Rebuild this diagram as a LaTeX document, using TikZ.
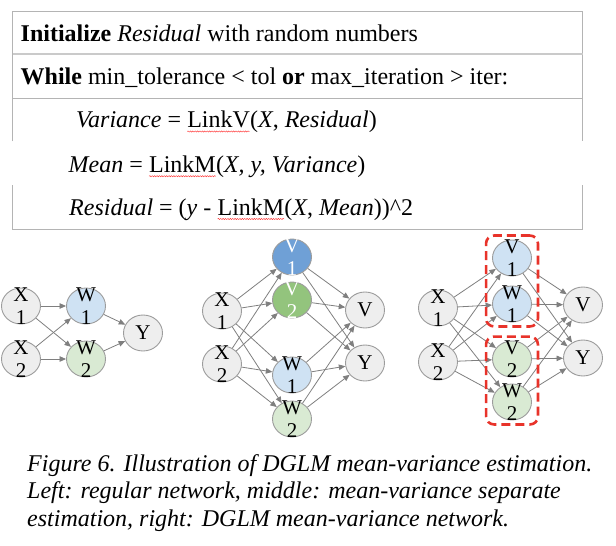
\documentclass[tikz,border=0pt]{standalone}
\usepackage{fontspec}
\setmainfont{Liberation Serif}
\usetikzlibrary{arrows.meta,shapes.geometric,fit,decorations.pathmorphing}
\definecolor{nodegray}{HTML}{EEEEEE}
\definecolor{edgegray}{HTML}{7F7F7F}
\definecolor{rimgray}{HTML}{9C9C9C}
\definecolor{lightblue}{HTML}{CFE2F3}
\definecolor{lightgreen}{HTML}{D9EAD3}
\definecolor{midblue}{HTML}{6FA0D6}
\definecolor{midgreen}{HTML}{93C47D}
\definecolor{boxred}{HTML}{E8332A}
\definecolor{rulegray}{HTML}{B4B4B4}
\newcommand\spellwave[1]{\tikz[baseline=(sw.base)]{\node[inner sep=0pt,outer sep=0pt] (sw) {#1};
	\draw[red!80, line width=0.45bp, decorate, decoration={snake, amplitude=0.6bp, segment length=2.4bp}]
	([yshift=-3.5bp]sw.base west) -- ([yshift=-3.5bp]sw.base east);}}
\tikzset{
	unit/.style={ellipse, draw=rimgray, line width=0.9bp, fill=nodegray,
		minimum width=39bp, minimum height=36bp, inner sep=0pt},
	unittext/.style={align=center, inner sep=0pt,
		font=\fontsize{21bp}{23bp}\selectfont},
	tag/.style={label={[unittext]center:#1}},
	wtag/.style={label={[unittext,text=white]center:#1}},
	arr/.style={draw=edgegray, line width=0.8bp, -{Triangle[length=6.5bp,width=5.5bp]}},
	redbox/.style={draw=boxred, line width=2.6bp, dash pattern=on 9bp off 5bp,
		rounded corners=8bp, inner xsep=6bp, inner ysep=4bp},
	row/.style={anchor=base west, inner sep=0pt, font=\fontsize{24bp}{28bp}\selectfont},
	captext/.style={anchor=base west, inner sep=0pt, font=\fontsize{24bp}{28bp}\selectfont\itshape},
}

\begin{document}
\begin{tikzpicture}[x=1bp,y=-1bp]
\useasboundingbox (0,0) rectangle (616,546);

% pseudo code table
\draw[rulegray, line width=1bp] (12.5,141.5) -- (12.5,11.5) -- (582.5,11.5) -- (582.5,141.5);
\draw[rulegray!70, line width=2bp] (12.5,54.5) -- (582.5,54.5);
\draw[rulegray, line width=1bp] (12.5,98.3) -- (582.5,98.3);
\draw[rulegray, line width=1bp] (12.5,185.5) -- (12.5,229) -- (582.5,229) -- (582.5,185.5);

\node[row] (init) at (20.5,41.7) {\textbf{Initialize} \textit{Residual} with random numbers};
\node[row] (while) at (20.5,85) {\textbf{While} min\_tolerance < tol \textbf{or} max\_iteration > iter:};
\node[row] (var) at (76,128) {\textit{Variance} = \spellwave{LinkV}(\textit{X}, \textit{Residual})};
\node[row] (mean) at (68.5,172.7) {\textit{Mean} = \spellwave{LinkM}(\textit{X, y, Variance})};
\node[row] (resid) at (69,215.5) {\textit{Residual} = (\textit{y} - \spellwave{LinkM}(\textit{X}, \textit{Mean}))\textasciicircum 2};

% left: regular network
\node[unit, tag={X\\1}] (lx1) at (21,306) {};
\node[unit, tag={X\\2}] (lx2) at (21,359) {};
\node[unit, fill=lightblue, tag={W\\1}] (lw1) at (86,306) {};
\node[unit, fill=lightgreen, tag={W\\2}] (lw2) at (86,359) {};
\node[unit, tag={Y}] (ly) at (143,333) {};

\draw[arr] (lx1) -- (lw1);
\draw[arr] (lx1) -- (lw2);
\draw[arr] (lx2) -- (lw1);
\draw[arr] (lx2) -- (lw2);
\draw[arr] (lw1) -- (ly);
\draw[arr] (lw2) -- (ly);

% middle: separate estimation
\node[unit, tag={X\\1}] (mx1) at (222,311) {};
\node[unit, tag={X\\2}] (mx2) at (222,364) {};
\node[unit, fill=midblue, wtag={V\\1}] (mv1) at (292,257) {};
\node[unit, fill=midgreen, wtag={V\\2}] (mv2) at (292,300) {};
\node[unit, fill=lightblue, tag={W\\1}] (mw1) at (292,375) {};
\node[unit, fill=lightgreen, tag={W\\2}] (mw2) at (292,419) {};
\node[unit, tag={V}] (mv) at (365,310) {};
\node[unit, tag={Y}] (my) at (365,363) {};

\foreach \a in {mx1,mx2}
  \foreach \b in {mv1,mv2,mw1,mw2}
    \draw[arr] (\a) -- (\b);
\foreach \a in {mv1,mv2,mw1,mw2}
  \foreach \b in {mv,my}
    \draw[arr] (\a) -- (\b);

% right: DGLM network
\node[unit, tag={X\\1}] (rx1) at (438,308) {};
\node[unit, tag={X\\2}] (rx2) at (438,362) {};
\node[unit, fill=lightblue, tag={V\\1}] (rv1) at (512,258) {};
\node[unit, fill=lightblue, tag={W\\1}] (rw1) at (512,304) {};
\node[unit, fill=lightgreen, tag={V\\2}] (rv2) at (512,359) {};
\node[unit, fill=lightgreen, tag={W\\2}] (rw2) at (512,402) {};
\node[unit, tag={V}] (rv) at (583,305) {};
\node[unit, tag={Y}] (ry) at (583,358) {};

\foreach \a in {rx1,rx2}
  \foreach \b in {rv1,rw1,rv2,rw2}
    \draw[arr] (\a) -- (\b);
\foreach \a in {rv1,rw1,rv2,rw2}
  \foreach \b in {rv,ry}
    \draw[arr] (\a) -- (\b);

\node[redbox, fit=(rv1)(rw1)] (grpa) {};
\node[redbox, fit=(rv2)(rw2)] (grpb) {};

% caption
\node[captext] (cap1) at (27,471) {Figure 6. Illustration of DGLM mean-variance estimation.};
\node[captext] (cap2) at (27,498.5) {Left: regular network, middle: mean-variance separate};
\node[captext] (cap3) at (27,526) {estimation, right: DGLM mean-variance network.};
\end{tikzpicture}
\end{document}
